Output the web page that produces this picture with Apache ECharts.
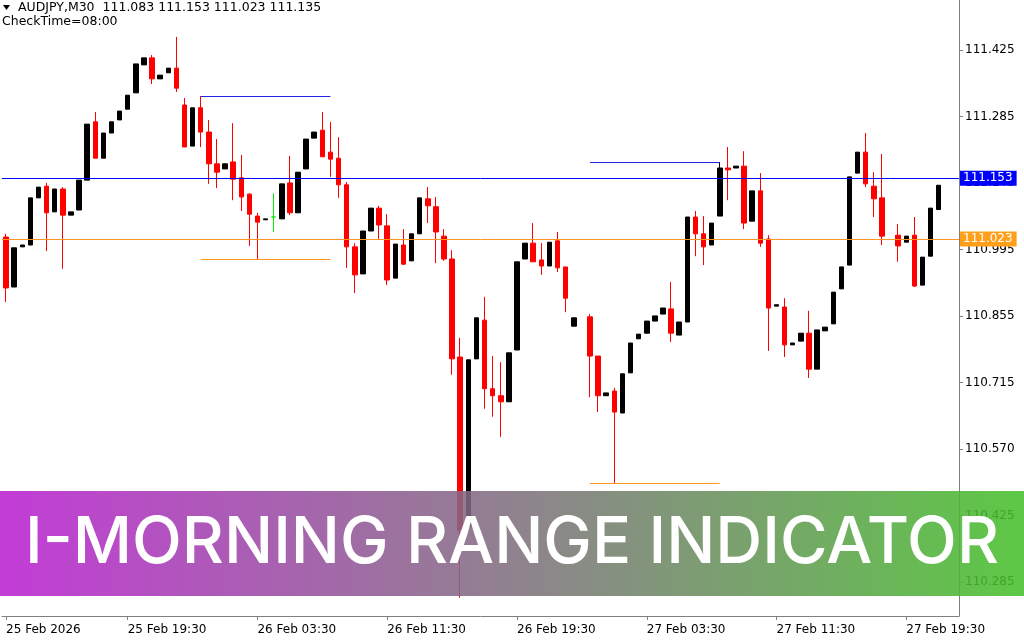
<!DOCTYPE html>
<html>
<head>
<meta charset="utf-8">
<script src="https://cdn.jsdelivr.net/npm/echarts@6/dist/echarts.min.js"></script>
<style>
html,body{margin:0;padding:0;background:#fff;}
#chart{width:1024px;height:640px;}
</style>
</head>
<body>
<div id="chart"></div>
<script>
// ---- data (AUDJPY M30) ----
const startTime = '2026-02-25 12:00';
const barCount = 118;           // includes right-side empty shift
const opens = [111.024,110.917,111.003,111.007,111.108,111.133,111.078,111.127,111.071,111.082,
111.146,111.271,111.193,111.247,111.275,111.298,111.333,111.393,111.408,111.363,
111.376,111.386,111.307,111.219,111.301,111.249,111.181,111.170,111.185,111.151,
111.116,111.069,111.061,111.067,111.063,111.140,111.076,111.170,111.236,111.253,
111.206,111.193,111.136,111.003,110.945,111.037,111.086,111.048,110.936,111.007,
110.973,111.031,111.106,111.089,111.026,110.977,110.767,110.403,110.763,110.846,
110.699,110.684,110.671,110.782,110.977,111.011,110.975,110.962,111.016,110.960,
110.833,null,110.853,110.769,110.684,110.694,110.647,110.733,110.806,110.818,
110.844,110.859,110.870,110.814,110.842,111.067,111.031,111.007,111.069,111.172,
111.172,111.176,111.058,111.123,111.020,110.876,110.874,110.793,110.801,110.818,
110.741,110.823,110.838,110.913,110.964,111.161,111.206,111.133,111.108,null,
111.028,111.013,111.028,110.921,110.983,111.083];
const closes = [110.915,111.001,111.007,111.108,111.131,111.076,111.127,111.071,111.078,111.146,
111.266,111.193,111.247,111.271,111.294,111.328,111.395,111.408,111.363,111.371,
111.386,111.343,111.217,111.301,111.249,111.181,111.163,111.181,111.148,111.110,
111.073,111.056,111.063,111.067,111.138,111.076,111.163,111.234,111.249,111.196,
111.191,111.136,111.003,110.943,111.037,111.086,111.050,110.932,111.009,110.966,
111.031,111.108,111.091,111.035,110.977,110.763,110.396,110.761,110.851,110.699,
110.684,110.671,110.776,110.971,111.011,110.971,110.962,111.013,110.958,110.893,
110.851,null,110.769,110.684,110.690,110.649,110.731,110.797,110.816,110.844,
110.855,110.872,110.818,110.842,111.067,111.031,111.003,111.054,111.172,111.168,
111.176,111.054,111.123,111.011,110.872,110.879,110.793,110.797,110.818,110.741,
110.825,110.831,110.906,110.960,111.153,111.206,111.138,111.106,111.026,null,
111.005,111.026,110.919,110.981,111.086,111.135];
const lows = [110.885,110.917,111.003,111.007,111.108,110.994,111.078,110.956,111.071,111.082,
111.146,111.193,111.193,111.247,111.275,111.298,111.333,111.393,111.352,111.363,
111.376,111.335,111.217,111.219,111.217,111.138,111.129,111.170,111.103,111.080,
111.005,110.977,111.061,111.035,111.063,111.071,111.076,111.170,111.236,111.196,
111.153,111.108,110.958,110.904,110.945,111.037,111.020,110.921,110.936,110.964,
110.973,111.031,111.054,110.968,110.973,110.729,110.251,110.403,110.763,110.656,
110.639,110.596,110.671,110.782,110.977,110.971,110.943,110.962,110.949,110.863,
110.833,null,110.681,110.649,110.684,110.497,110.647,110.733,110.806,110.818,
110.844,110.859,110.799,110.814,110.842,110.983,110.964,111.007,111.069,111.103,
111.172,111.041,111.058,111.003,110.780,110.876,110.767,110.793,110.801,110.722,
110.741,110.823,110.838,110.913,110.964,111.161,111.131,111.067,111.007,null,
110.971,111.013,110.917,110.921,110.983,111.083];
const highs = [111.031,111.001,111.007,111.108,111.131,111.140,111.127,111.131,111.078,111.146,
111.266,111.292,111.247,111.271,111.294,111.328,111.395,111.408,111.414,111.371,
111.386,111.453,111.322,111.301,111.326,111.275,111.234,111.181,111.268,111.200,
111.118,111.076,111.063,111.118,111.138,111.198,111.163,111.234,111.249,111.292,
111.271,111.238,111.142,111.011,111.037,111.086,111.091,111.073,111.009,111.041,
111.031,111.108,111.131,111.110,111.041,110.996,110.808,110.761,110.851,110.896,
110.769,110.756,110.776,110.971,111.011,111.054,111.011,111.013,111.035,110.960,
110.851,null,110.859,110.769,110.690,110.701,110.731,110.797,110.816,110.844,
110.855,110.872,110.928,110.842,111.067,111.080,111.069,111.054,111.185,111.217,
111.176,111.208,111.123,111.161,111.028,110.879,110.893,110.797,110.818,110.866,
110.825,110.831,110.906,110.960,111.153,111.206,111.247,111.163,111.202,null,
111.052,111.026,111.067,110.981,111.086,111.135];

// full-width indicator levels and current price
const levelHigh = 111.153;
const levelLow = 111.023;
const bidPrice = 111.135;
// morning ranges: [startBar, endBar, high, low]
const rangeStarts = [24, 72];
const rangeEnds = [40, 88];
const rangeHighs = [111.326, 111.185];
const rangeLows = [110.977, 110.497];

// axis ticks
const yTickValues = [110.285,110.4275,110.570,110.7125,110.855,110.9975,111.140,111.2825,111.425];
const yTickLabels = ['110.285','110.425','110.570','110.715','110.855','110.995','111.140','111.285','111.425'];
const xTickIdx = [0,15,31,47,63,79,95,111];
const xTickLabels = ['25 Feb 2026','25 Feb 19:30','26 Feb 03:30','26 Feb 11:30','26 Feb 19:30','27 Feb 03:30','27 Feb 11:30','27 Feb 19:30'];

const headerLine1 = 'AUDJPY,M30  111.083 111.153 111.023 111.135';
const headerLine2 = 'CheckTime=08:00';
const bannerText = 'I-MORNING RANGE INDICATOR';

// ---- build ----
const months = ['Jan','Feb','Mar','Apr','May','Jun','Jul','Aug','Sep','Oct','Nov','Dec'];
const categories = [];
{
  const p = startTime.split(/[- :]/).map(Number);
  const t0 = Date.UTC(p[0], p[1]-1, p[2], p[3], p[4]);
  for (let i = 0; i < barCount; i++) {
    const d = new Date(t0 + i*30*60000);
    const hh = String(d.getUTCHours()).padStart(2,'0');
    const mm = String(d.getUTCMinutes()).padStart(2,'0');
    categories.push(d.getUTCDate() + ' ' + months[d.getUTCMonth()] + ' ' + hh + ':' + mm);
  }
}
const candleData = opens.map((o,i) => o === null ? '-' : [o, closes[i], lows[i], highs[i]]);

const FONT = 'DejaVu Sans';
const BLUE = '#0000ff';
const ORANGE = '#ff9422';

function boxLabel(bg, value) {
  return {
    show: true, position: 'end', distance: 1,
    formatter: value.toFixed(3),
    backgroundColor: bg, color: '#ffffff',
    fontFamily: FONT, fontSize: 12, padding: [2, 4, 1, 3]
  };
}

const markData = [
  { yAxis: bidPrice, lineStyle: { opacity: 0 }, label: boxLabel('#000000', bidPrice) },
  { yAxis: levelHigh, lineStyle: { color: BLUE, width: 1, type: 'solid', opacity: 1 }, label: boxLabel(BLUE, levelHigh) },
  { yAxis: levelLow, lineStyle: { color: ORANGE, width: 1, type: 'solid', opacity: 1 }, label: boxLabel('#ff9f1a', levelLow) }
];
rangeStarts.forEach((s, k) => {
  markData.push([{ coord: [s, rangeHighs[k]], lineStyle: { color: '#2323e6', width: 1, type: 'solid', opacity: 1 }, label: { show: false } },
                 { coord: [rangeEnds[k], rangeHighs[k]] }]);
  markData.push([{ coord: [s, rangeLows[k]], lineStyle: { color: ORANGE, width: 1, type: 'solid', opacity: 1 }, label: { show: false } },
                 { coord: [rangeEnds[k], rangeLows[k]] }]);
});

const chart = echarts.init(document.getElementById('chart'), null, { renderer: 'canvas' });
chart.setOption({
  animation: false,
  backgroundColor: '#ffffff',
  grid: { left: 2, right: 65, top: 0, bottom: 24, containLabel: false },
  xAxis: {
    type: 'category',
    data: categories,
    boundaryGap: true,
    axisLine: { show: true, lineStyle: { color: '#7f7f7f', width: 1 } },
    axisTick: { show: true, alignWithLabel: true, length: 4, lineStyle: { color: '#7f7f7f' },
      interval: (i) => xTickIdx.indexOf(i) >= 0 },
    axisLabel: {
      show: true, interval: (i) => xTickIdx.indexOf(i) >= 0,
      formatter: (v, i) => { const k = xTickIdx.indexOf(i); return k >= 0 ? xTickLabels[k] : ''; },
      align: 'left', color: '#000', fontFamily: FONT, fontSize: 12, margin: 8
    },
    splitLine: { show: false }
  },
  yAxis: {
    type: 'value',
    position: 'right',
    min: 110.212, max: 111.532,
    scale: true,
    axisLine: { show: true, lineStyle: { color: '#7f7f7f', width: 1 } },
    axisTick: { show: true, length: 4, lineStyle: { color: '#7f7f7f' }, customValues: yTickValues },
    axisLabel: {
      show: true, customValues: yTickValues, margin: 6,
      formatter: (v) => { for (let i = 0; i < yTickValues.length; i++) if (Math.abs(yTickValues[i]-v) < 1e-6) return yTickLabels[i]; return ''; },
      color: '#000', fontFamily: FONT, fontSize: 12
    },
    splitLine: { show: false }
  },
  series: [{
    type: 'candlestick',
    data: candleData,
    barWidth: 5,
    itemStyle: {
      color: '#000000', color0: '#ff0000',
      borderColor: '#000000', borderColor0: '#ff0000',
      borderColorDoji: '#00ee00', borderWidth: 1
    },
    markLine: {
      silent: true, symbol: 'none', animation: false,
      emphasis: { disabled: true },
      data: markData
    }
  }],
  graphic: [
    { type: 'polygon', z: 50, shape: { points: [[3,5],[10,5],[6.5,10]] }, style: { fill: '#000' } },
    { type: 'text', z: 50, left: 18, top: 1, style: { text: headerLine1, fill: '#000', font: '12.5px "DejaVu Sans"' } },
    { type: 'text', z: 50, left: 2, top: 15, style: { text: headerLine2, fill: '#000', font: '12.5px "DejaVu Sans"' } },
    { type: 'rect', z: 100, shape: { x: 0, y: 491, width: 1024, height: 105 },
      style: { fill: new echarts.graphic.LinearGradient(0, 0, 1, 0, [
        { offset: 0, color: 'rgba(186,31,209,0.87)' },
        { offset: 1, color: 'rgba(69,192,42,0.87)' }
      ]) } },
    { type: 'text', z: 101, x: 512, y: 543, style: { text: bannerText, fill: '#ffffff',
      font: '500 65px Inter', textAlign: 'center', textVerticalAlign: 'middle' } }
  ]
});
</script>
</body>
</html>
